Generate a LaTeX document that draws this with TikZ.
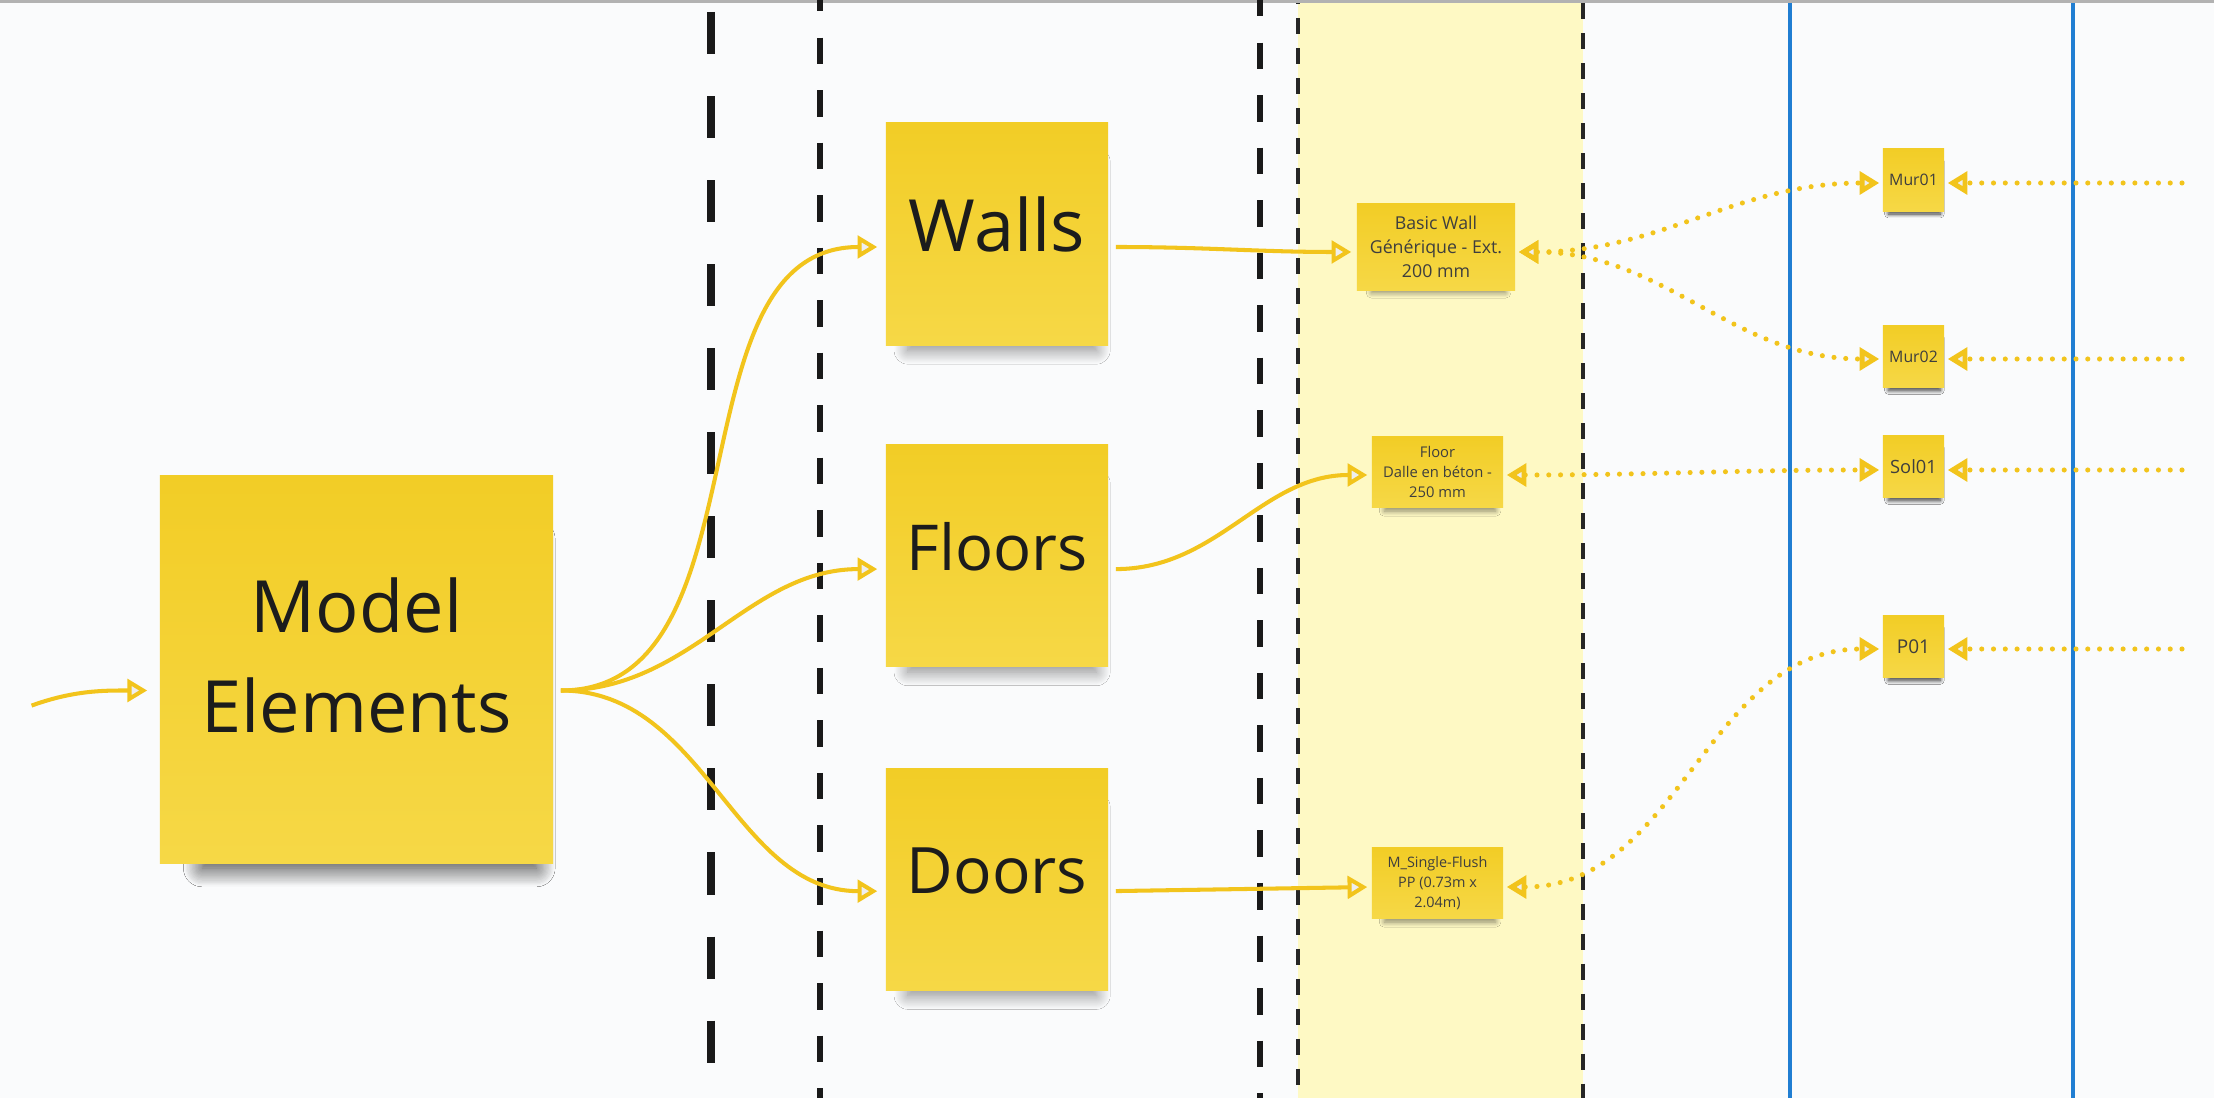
\documentclass[tikz,border=0pt]{standalone}
\usepackage{fontspec}
\setmainfont{Open Sans}
\usetikzlibrary{arrows.meta,positioning,shadows.blur}
\definecolor{boardBg}{RGB}{250,251,252}
\definecolor{stickyTop}{RGB}{242,205,38}
\definecolor{stickyBottom}{RGB}{246,216,70}
\definecolor{linkYellow}{RGB}{242,196,28}
\definecolor{tipGray}{RGB}{238,238,238}
\definecolor{bandYellow}{RGB}{254,249,196}
\definecolor{laneBlue}{RGB}{32,126,210}
\definecolor{inkDark}{RGB}{28,28,28}

\begin{document}
\begin{tikzpicture}[
  x=0.01cm, y=-0.01cm,
  notetip/.tip={Triangle[fill=tipGray,length=5.6pt,width=6.4pt]},
  sticky/.style={
    inner sep=0pt,
    top color=stickyTop,
    bottom color=stickyBottom,
    text=inkDark,
    align=center
  },
  bignote/.style={
    sticky,
    minimum width=2.22cm,
    minimum height=2.22cm,
    text depth=0.2cm,
    font=\fontsize{20.5}{28.4}\selectfont,
    blur shadow={shadow xshift=0.06cm,shadow yshift=-0.26cm,
      shadow blur radius=0.16cm,shadow blur steps=16,
      shadow opacity=45,shadow scale=0.85}
  },
  typenote/.style={
    sticky,
    text=inkDark!85,
    minimum width=1.31cm,
    minimum height=0.70cm,
    font=\fontsize{4.2}{5.7}\selectfont,
    blur shadow={shadow xshift=0.03cm,shadow yshift=-0.11cm,
      shadow blur radius=0.06cm,shadow blur steps=10,
      shadow opacity=45,shadow scale=0.85}
  },
  idnote/.style={
    typenote,
    minimum width=0.61cm,
    minimum height=0.62cm,
    font=\fontsize{4.5}{6}\selectfont,
    blur shadow={shadow xshift=0.01cm,shadow yshift=-0.09cm,
      shadow blur radius=0.045cm,shadow blur steps=10,
      shadow opacity=45,shadow scale=0.85}
  },
  link/.style={linkYellow,line width=1.15pt,-notetip,
    shorten <=0.7mm,shorten >=0.8mm},
  trace/.style={linkYellow,line width=1.45pt,line cap=round,
    dash pattern=on 0pt off 3.35pt,notetip-notetip,
    shorten <=0.3mm,shorten >=0.3mm},
  tracein/.style={trace,-notetip},
  thickcut/.style={black!90,line width=2.3pt,
    dash pattern=on 0.42cm off 0.42cm},
  cut/.style={black!90,line width=1.55pt,
    dash pattern=on 0.265cm off 0.26cm},
  bandedge/.style={black!85,line width=1pt,
    dash pattern=on 0.16cm off 0.14cm}
]
  \useasboundingbox (0,0) rectangle (2214,1098);
  \fill[boardBg] (0,0) rectangle (2214,1098);

  % columns
  \fill[bandYellow] (1298,3) rectangle (1583,1098);
  \draw[gray!60,line width=0.85pt] (0,1.5) -- (2214,1.5);
  \draw[thickcut] (711,12) -- (711,1098);
  \draw[cut,dash phase=0.15cm] (820,0) -- (820,1098);
  \draw[cut,dash phase=0.1cm] (1260,0) -- (1260,1098);
  \draw[bandedge,dash phase=0.15cm] (1298,3) -- (1298,1098);
  \draw[bandedge] (1583,3) -- (1583,1098);
  \draw[laneBlue,line width=1pt] (1790,3) -- (1790,1098);
  \draw[laneBlue,line width=1pt] (2073,3) -- (2073,1098);

  % categories
  \node[bignote,minimum width=3.93cm,minimum height=3.87cm,text depth=0.28cm,
    blur shadow={shadow xshift=0.15cm,shadow yshift=-0.4cm,
      shadow blur radius=0.22cm,shadow blur steps=16,
      shadow opacity=45,shadow scale=0.85}]
    (model) at (356.5,669.5) {Model\\Elements};
  \node[bignote] (walls) at (997,234) {Walls};
  \node[bignote,below=0.98cm of walls,
    font=\fontsize{18}{24}\selectfont,text depth=0.18cm] (floors) {Floors};
  \node[bignote,below=1.0cm of floors,
    font=\fontsize{18.2}{24}\selectfont,text depth=0.18cm] (doors) {Doors};

  % family types
  \node[typenote,minimum width=1.58cm,minimum height=0.86cm,
    font=\fontsize{5.05}{6.8}\selectfont] (basicwall) at (1436,247)
    {Basic Wall\\Générique - Ext.\\200 mm};
  \node[typenote] (floortype) at (1437.5,472)
    {Floor\\Dalle en béton -\\250 mm};
  \node[typenote,font=\fontsize{4.1}{5.7}\selectfont] (doortype) at (1437.5,883)
    {M\_Single-Flush\\PP (0.73m x\\2.04m)};

  % instances
  \node[idnote] (mur01) at (1913.5,180) {Mur01};
  \node[idnote] (mur02) at (1913.5,356.5) {Mur02};
  \node[idnote,font=\fontsize{5.2}{6}\selectfont] (sol01) at (1913.5,466.5) {Sol01};
  \node[idnote,font=\fontsize{5.4}{6}\selectfont] (p01) at (1913.5,646.5) {P01};

  % solid links
  \coordinate (feed) at (25,708);
  \draw[link,shorten >=1.2mm] (feed) to[out=20,in=180] ([yshift=-2.1mm]model.west);
  \draw[link] ([yshift=-2.1mm]model.east) to[out=0,in=180] ([yshift=-1.3mm]walls.west);
  \draw[link] ([yshift=-2.1mm]model.east) to[out=0,in=180] ([yshift=-1.35mm]floors.west);
  \draw[link] ([yshift=-2.1mm]model.east) to[out=0,in=180] ([yshift=-1.2mm]doors.west);
  \draw[link,shorten >=0.5mm] ([yshift=-1.3mm]walls.east) to[out=0,in=180] ([yshift=-0.5mm]basicwall.west);
  \draw[link,shorten >=0.4mm] ([yshift=-1.35mm]floors.east) to[out=0,in=180] ([yshift=-0.3mm]floortype.west);
  \draw[link,shorten >=0.4mm] ([yshift=-1.2mm]doors.east) -- ([yshift=-0.4mm]doortype.west);

  % dotted traces
  \draw[trace] ([yshift=-0.5mm]basicwall.east) to[out=0,in=180] ([yshift=-0.3mm]mur01.west);
  \draw[trace] ([yshift=-0.5mm]basicwall.east) to[out=0,in=180] ([yshift=-0.25mm]mur02.west);
  \draw[trace] ([yshift=-0.3mm]floortype.east) to[out=0,in=180] ([yshift=-0.35mm]sol01.west);
  \draw[trace] ([yshift=-0.4mm]doortype.east) to[out=0,in=180] ([yshift=-0.25mm]p01.west);

  \coordinate (out1) at (2185,183);
  \coordinate (out2) at (2185,359);
  \coordinate (out3) at (2185,470);
  \coordinate (out4) at (2185,649);
  \draw[tracein] (out1) -- ([yshift=-0.3mm]mur01.east);
  \draw[tracein] (out2) -- ([yshift=-0.25mm]mur02.east);
  \draw[tracein] (out3) -- ([yshift=-0.35mm]sol01.east);
  \draw[tracein] (out4) -- ([yshift=-0.25mm]p01.east);
\end{tikzpicture}
\end{document}
